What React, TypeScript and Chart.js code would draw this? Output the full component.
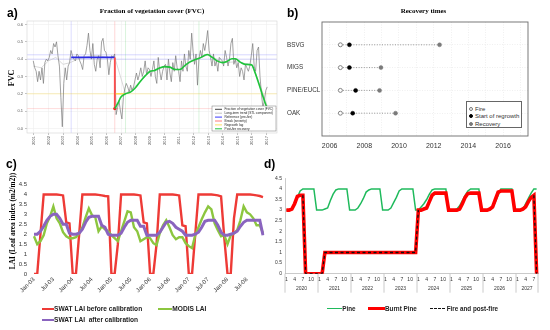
import React, { useEffect, useRef } from 'react';
import { Chart, registerables } from 'chart.js';

Chart.register(...registerables);

const SANS = '"Liberation Sans", Arial, Helvetica, sans-serif';
const SERIF = '"Liberation Serif", "Times New Roman", serif';

// ---------------- Panel a : FVC time series ----------------
const fvcStart = 2000.95;
const fvcStep = 0.1;
const fvcValues = [
  0.39,
  0.35, 0.33, 0.27, 0.33, 0.28, 0.35, 0.26, 0.38, 0.40, 0.39,
  0.41, 0.45, 0.43, 0.49, 0.47, 0.50, 0.42, 0.36, 0.18, 0.01,
  0.26, 0.35, 0.28, 0.36, 0.38, 0.45, 0.42, 0.40, 0.39, 0.43,
  0.42, 0.39, 0.37, 0.34, 0.42, 0.43, 0.48, 0.55, 0.45, 0.40,
  0.49, 0.37, 0.33, 0.40, 0.42, 0.35, 0.50, 0.52, 0.45, 0.44,
  0.40, 0.31, 0.38, 0.42, 0.41, 0.43, 0.08, 0.12, 0.16, 0.10,
  0.055, 0.18, 0.23, 0.26, 0.24, 0.21, 0.25, 0.22, 0.24, 0.28,
  0.32, 0.28, 0.31, 0.35, 0.30, 0.33, 0.39, 0.31, 0.35, 0.34,
  0.30, 0.34, 0.39, 0.30, 0.26, 0.41, 0.33, 0.28, 0.33, 0.36,
  0.37, 0.28, 0.40, 0.32, 0.27, 0.38, 0.33, 0.42, 0.35, 0.33,
  0.27, 0.39, 0.33, 0.43, 0.36, 0.33, 0.45, 0.40, 0.55, 0.44,
  0.37, 0.43, 0.25, 0.40, 0.45, 0.41, 0.49, 0.45, 0.50, 0.565,
  0.45, 0.41, 0.36, 0.43, 0.36, 0.39, 0.33, 0.41, 0.40, 0.39,
  0.36, 0.45, 0.41, 0.36, 0.40, 0.49, 0.52, 0.37, 0.40, 0.35,
  0.38, 0.30, 0.35, 0.33, 0.28, 0.37, 0.35, 0.33, 0.36, 0.42,
  0.49, 0.36, 0.33, 0.45, 0.47, 0.30, 0.20, 0.12, 0.16, 0.22,
  0.24,
];
const trendYears = [2000.95, 2001.5, 2002.0, 2002.5, 2003.0, 2003.5, 2004.0, 2004.5, 2005.0, 2005.5, 2006.0, 2006.56, 2007.3, 2008.0, 2009.0, 2010.0, 2011.0, 2012.0, 2013.0, 2014.0, 2015.0, 2016.0, 2016.6, 2017.05];
const trendValues = [0.36, 0.35, 0.39, 0.41, 0.37, 0.38, 0.40, 0.41, 0.42, 0.42, 0.41, 0.41, 0.20, 0.245, 0.33, 0.355, 0.34, 0.395, 0.425, 0.38, 0.385, 0.365, 0.24, 0.13];
const recoveryYears = [2006.56, 2006.8, 2006.97, 2007.3, 2007.64, 2007.98, 2008.3, 2008.66, 2009.0, 2009.3, 2009.67, 2010.0, 2010.36, 2010.7, 2011.04, 2011.38, 2011.7, 2012.05, 2012.4, 2012.7, 2012.93, 2013.27, 2013.6, 2013.94, 2014.28, 2014.62, 2014.85, 2015.19, 2015.53, 2015.98, 2016.2, 2016.56, 2016.97, 2017.15];
const recoveryValues = [0.115, 0.15, 0.18, 0.2, 0.21, 0.235, 0.27, 0.305, 0.33, 0.335, 0.35, 0.357, 0.354, 0.34, 0.34, 0.363, 0.383, 0.396, 0.406, 0.42, 0.427, 0.41, 0.39, 0.38, 0.387, 0.402, 0.402, 0.383, 0.37, 0.367, 0.325, 0.235, 0.133, 0.1];
const refStartYear = 2003.56;
const fireYear = 2006.56;
const regrowthYear = 2007.3;
const recoveredYear = 2012.35;
const refLevel = 0.41;
const refBandLevels = [0.425, 0.4];
const severityLevel = 0.115;
const regrowthLevel = 0.2;
const fvcTickYears = [2001, 2002, 2003, 2004, 2005, 2006, 2007, 2008, 2009, 2010, 2011, 2012, 2013, 2014, 2015, 2016, 2017];
const fvcTickValues = [0, 0.1, 0.2, 0.3, 0.4, 0.5, 0.6];
const fvcLegendLabels = ['Fraction of vegetation cover (FVC)', 'Long-term trend (STL component)', 'Reference (pre-fire)', 'Break (severity)', 'Regrowth lag', 'Post-fire recovery'];

// ---------------- Panel b : recovery times ----------------
const landCovers = ['BSVG', 'MIGS', 'PINE/EUCL', 'OAK'];
const fireTimes = [2006.62, 2006.62, 2006.62, 2006.62];
const regrowthTimes = [2007.14, 2007.14, 2007.5, 2007.33];
const recoveryTimes = [2012.34, 2008.96, 2008.88, 2009.8];
const recoveryTickYears = [2006, 2007, 2008, 2009, 2010, 2011, 2012, 2013, 2014, 2015, 2016, 2017];

// ---------------- Panel c : LAI calibration ----------------
const laiYearCodes = ['03', '04', '05', '06', '07', '08'];
const monthNames = ['Jan', 'Feb', 'Mar', 'Apr', 'May', 'Jun', 'Jul', 'Aug', 'Sep', 'Oct', 'Nov', 'Dec'];
const swatBefore = [
  0, 0, 2.0, 4, 4, 4, 4, 4, 3.98, 3.95, 2.6, 2.55,
  0, 0, 2.0, 4, 4, 4, 4, 4, 3.98, 3.95, 3.92, 3.9,
  0, 0, 1.5, 4, 4, 4, 4, 4, 3.98, 3.95, 2.6, 2.55,
  0, 0, 1.5, 4, 4, 4, 4, 4, 3.98, 3.95, 2.45, 2.4,
  0, 0, 2.0, 4, 4, 4, 4, 4, 3.98, 3.95, 3.9, 1.8,
  0, 0, 2.8, 4, 4, 4, 4, 4, 3.98, 3.95, 3.92, 3.87,
];
const modisLai = [
  1.9, 1.5, 1.65, 1.95, 2.55, 2.9, 3.4, 2.8, 2.55, 2.1, 1.9, 1.8,
  1.8, 1.85, 2.05, 2.35, 2.85, 3.3, 2.95, 2.85, 2.15, 2.4, 2.25, 2.15,
  1.95, 1.8, 1.65, 2.15, 2.65, 3.15, 3.1, 2.35, 2.15, 1.65, 1.75, 1.85,
  1.8, 1.55, 1.45, 2.05, 2.45, 2.7, 2.35, 1.95, 1.75, 1.85, 1.85, 1.55,
  1.4, 1.3, 1.95, 2.35, 2.75, 3.1, 3.4, 3.25, 2.55, 2.2, 1.9, 1.95,
  1.5, 1.95, 2.05, 2.2, 2.7, 3.4, 3.1, 3.0, 2.8, 2.45, 2.45, 2.05,
];
const swatAfter = [
  2.0, 2.0, 2.15, 2.4, 2.7, 2.9, 3.0, 3.0, 2.8, 2.5, 2.5, 2.05,
  2.0, 2.0, 2.05, 2.25, 2.6, 2.85, 2.9, 2.9, 2.9, 2.45, 2.35, 2.0,
  1.95, 1.95, 1.95, 2.05, 2.35, 2.6, 2.7, 2.7, 2.7, 2.4, 2.4, 1.95,
  1.95, 1.95, 1.95, 2.1, 2.35, 2.6, 2.65, 2.55, 2.35, 2.25, 2.15, 1.95,
  1.95, 1.95, 2.0, 2.1, 2.35, 2.65, 2.7, 2.7, 2.7, 2.45, 2.1, 1.95,
  1.95, 2.0, 2.05, 2.15, 2.4, 2.6, 2.7, 2.7, 2.7, 2.7, 2.7, 1.95,
];

// ---------------- Panel d : pine LAI scenario ----------------
const pineYears = [2020, 2021, 2022, 2023, 2024, 2025, 2026, 2027];
const pineMonthCounts = [12, 12, 12, 12, 12, 12, 12, 8];
const shownMonths = ['1', '4', '7', '10'];
const pineLai = [
  3.0, 3.0, 3.05, 3.3, 3.6, 3.9, 4.0, 4.0, 4.0, 4.0, 4.0, 3.0,
  3.0, 3.0, 3.05, 3.1, 3.45, 3.75, 3.95, 4.0, 4.0, 4.0, 4.0, 3.0,
  3.0, 3.0, 3.1, 3.3, 3.55, 3.85, 3.95, 4.0, 4.0, 4.0, 4.0, 3.0,
  3.0, 3.0, 3.1, 3.35, 3.6, 3.9, 4.0, 4.0, 4.0, 4.0, 4.0, 3.0,
  3.0, 3.15, 3.3, 3.5, 3.75, 3.95, 4.0, 4.0, 4.0, 4.0, 4.0, 3.0,
  3.0, 3.0, 3.05, 3.2, 3.45, 3.7, 3.9, 4.0, 4.0, 4.0, 4.0, 3.0,
  3.0, 3.0, 3.0, 3.1, 3.4, 3.7, 4.0, 4.0, 4.0, 4.0, 4.0, 3.0,
  3.0, 3.0, 3.05, 3.3, 3.55, 3.8, 4.0, 4.0,
];
const burntPineLai = [
  3.0, 3.0, 3.05, 3.3, 3.65, 3.7, 3.7, 0, 0, 0, 0, 0,
  0, 0, 1.0, 1.0, 1.0, 1.0, 1.0, 1.0, 1.0, 1.0, 1.0, 1.0,
  1.0, 1.0, 1.0, 1.0, 1.0, 1.0, 1.0, 1.0, 1.0, 1.0, 1.0, 1.0,
  1.0, 1.0, 1.0, 1.0, 1.0, 1.0, 1.0, 1.0, 1.0, 1.0, 1.0, 1.0,
  3.0, 3.0, 3.05, 3.1, 3.4, 3.7, 3.8, 3.8, 3.8, 3.8, 3.8, 3.0,
  3.0, 3.0, 3.0, 3.05, 3.3, 3.6, 3.78, 3.8, 3.8, 3.8, 3.8, 3.0,
  3.0, 3.0, 3.05, 3.15, 3.5, 3.85, 3.9, 3.9, 3.9, 3.9, 3.9, 3.0,
  3.0, 3.0, 3.05, 3.15, 3.4, 3.6, 3.7, 0,
];
const firePostFire = [
  null, null, null, null, null, null, 3.7, 0, 0, 0, 0, 0,
  0, 0, 1.0, 1.0, 1.0, 1.0, 1.0, 1.0, 1.0, 1.0, 1.0, 1.0,
  1.0, 1.0, 1.0, 1.0, 1.0, 1.0, 1.0, 1.0, 1.0, 1.0, 1.0, 1.0,
  1.0, 1.0, 1.0, 1.0, 1.0, 1.0, 1.0, 1.0, 1.0, 1.0, 1.0, 1.0,
  3.0, null, null, null, null, null, null, null, null, null, null, null,
  null, null, null, null, null, null, null, null, null, null, null, null,
  null, null, null, null, null, null, null, null, null, null, null, null,
  null, null, null, null, null, null, 3.7, 0,
];

// ---------------- helpers ----------------
const fixW = (w: number) => (s: any) => { s.width = w; };
const fixH = (h: number) => (s: any) => { s.height = h; };
const plainNumber = (v: any) => String(Math.round(Number(v) * 10) / 10);

const framePlugin = (color: string, width: number) => ({
  id: 'frame',
  afterDatasetsDraw(chart: any) {
    const { ctx, chartArea: a } = chart;
    ctx.save();
    ctx.strokeStyle = color;
    ctx.lineWidth = width;
    ctx.strokeRect(a.left, a.top, a.right - a.left, a.bottom - a.top);
    ctx.restore();
  },
});

const baseOptions = {
  responsive: false,
  animation: false,
  events: [],
};
const noPlugins = { legend: { display: false }, tooltip: { enabled: false } };

// ---------- config a ----------
const A_XMIN = 2000.52, A_XMAX = 2017.72, A_YMIN = -0.026, A_YMAX = 0.62;
const fvcLegendColors = ['#444444', '#c4c4c4', '#3b3bff', '#ff7a7a', '#ffe066', '#22c43f'];
const fvcLegendPlugin = {
  id: 'fvcLegend',
  afterDraw(chart: any) {
    const { ctx, chartArea } = chart;
    const w = 64, h = 25;
    const x0 = chartArea.right - w - 1, y0 = chartArea.bottom - h - 2;
    ctx.save();
    ctx.fillStyle = '#fff';
    ctx.fillRect(x0, y0, w, h);
    ctx.strokeStyle = '#777';
    ctx.lineWidth = 0.5;
    ctx.strokeRect(x0, y0, w, h);
    ctx.font = `3.2px ${SANS}`;
    ctx.textBaseline = 'middle';
    fvcLegendLabels.forEach((t, i) => {
      const y = y0 + 3.3 + i * 3.9;
      ctx.strokeStyle = fvcLegendColors[i];
      ctx.lineWidth = 1;
      ctx.beginPath();
      ctx.moveTo(x0 + 3, y);
      ctx.lineTo(x0 + 10, y);
      ctx.stroke();
      ctx.fillStyle = '#222';
      ctx.fillText(t, x0 + 12.5, y);
    });
    ctx.restore();
  },
};

function makeFvcConfig(): any {
  const hLine = (level: number, color: string) => ({
    data: [{ x: A_XMIN, y: level }, { x: A_XMAX, y: level }],
    borderColor: color, borderWidth: 0.7, pointRadius: 0, order: 10,
  });
  const vLine = (year: number, color: string) => ({
    data: [{ x: year, y: A_YMIN }, { x: year, y: A_YMAX }],
    borderColor: color, borderWidth: 0.7, pointRadius: 0, order: 10,
  });
  const tickFont = { size: 4, family: SANS };
  return {
    type: 'line',
    data: {
      datasets: [
        ...refBandLevels.map((l) => hLine(l, 'rgba(90,90,255,0.35)')),
        hLine(severityLevel, 'rgba(255,90,90,0.3)'),
        hLine(regrowthLevel, 'rgba(255,210,0,0.4)'),
        vLine(refStartYear, 'rgba(90,90,255,0.3)'),
        vLine(fireYear, 'rgba(255,90,90,0.35)'),
        vLine(regrowthYear, 'rgba(40,190,60,0.25)'),
        vLine(recoveredYear, 'rgba(40,190,60,0.25)'),
        {
          data: trendYears.map((x, i) => ({ x, y: trendValues[i] })),
          borderColor: '#cfcfcf', borderWidth: 0.8, pointRadius: 0, order: 6,
        },
        {
          data: fvcValues.map((v, i) => ({ x: fvcStart + i * fvcStep, y: v })),
          borderColor: '#7a7a7a', borderWidth: 0.7, pointRadius: 0, order: 5,
        },
        {
          data: [{ x: refStartYear, y: refLevel }, { x: fireYear, y: refLevel }],
          borderColor: '#2b2be8', borderWidth: 1.8, pointRadius: 0, order: 3,
        },
        {
          data: [{ x: fireYear, y: regrowthLevel }, { x: regrowthYear, y: regrowthLevel }],
          borderColor: '#ffd84a', borderWidth: 1.4, pointRadius: 0, order: 4,
        },
        {
          data: [{ x: fireYear, y: refLevel }, { x: fireYear, y: severityLevel }],
          borderColor: '#ff4d4d', borderWidth: 1.8,
          pointRadius: [0, 1.6], pointBackgroundColor: '#ff1a1a', pointBorderWidth: 0, order: 2,
        },
        {
          data: recoveryYears.map((x, i) => ({ x, y: recoveryValues[i] })),
          borderColor: '#1fc43a', borderWidth: 1.6, pointRadius: 0, cubicInterpolationMode: 'monotone', order: 1,
        },
      ],
    },
    options: {
      ...baseOptions,
      layout: { padding: { left: 0, top: 21, right: 1, bottom: 0 } },
      plugins: noPlugins,
      scales: {
        x: {
          type: 'linear', min: A_XMIN, max: A_XMAX,
          afterBuildTicks: (s: any) => { s.ticks = fvcTickYears.map((v) => ({ value: v })); },
          afterFit: fixH(17),
          ticks: { font: tickFont, color: '#555', minRotation: 90, maxRotation: 90, padding: 1, autoSkip: false, callback: (v: any) => String(v) },
          grid: { color: '#eeeeee', lineWidth: 0.6, tickLength: 2, tickColor: '#999' },
          border: { display: false },
        },
        y: {
          type: 'linear', min: A_YMIN, max: A_YMAX,
          afterBuildTicks: (s: any) => { s.ticks = fvcTickValues.map((v) => ({ value: v })); },
          afterFit: fixW(27),
          ticks: { font: tickFont, color: '#555', padding: 2, autoSkip: false, callback: (v: any) => Number(v).toFixed(1) },
          grid: { color: '#eeeeee', lineWidth: 0.6, tickLength: 2, tickColor: '#999' },
          border: { display: false },
        },
      },
    },
    plugins: [framePlugin('#d4d4d4', 0.6), fvcLegendPlugin],
  };
}

// ---------- config b ----------
function makeRecoveryConfig(): any {
  const pos = (i: number) => landCovers.length - i;
  return {
    type: 'scatter',
    data: {
      datasets: [
        ...landCovers.map((_, i) => ({
          data: [{ x: fireTimes[i], y: pos(i) }, { x: recoveryTimes[i], y: pos(i) }],
          showLine: true, borderColor: '#8a8a8a', borderWidth: 0.9, borderDash: [1, 1.6],
          pointRadius: 0, order: 5,
        })),
        {
          label: 'Fire',
          data: landCovers.map((_, i) => ({ x: fireTimes[i], y: pos(i) })),
          pointRadius: 2, pointBackgroundColor: '#ffffff', pointBorderColor: '#777', pointBorderWidth: 0.9, order: 1,
        },
        {
          label: 'Start of regrowth',
          data: landCovers.map((_, i) => ({ x: regrowthTimes[i], y: pos(i) })),
          pointRadius: 2, pointBackgroundColor: '#000', pointBorderColor: '#000', pointBorderWidth: 0.5, order: 1,
        },
        {
          label: 'Recovery',
          data: landCovers.map((_, i) => ({ x: recoveryTimes[i], y: pos(i) })),
          pointRadius: 2, pointBackgroundColor: '#7a7a7a', pointBorderColor: '#7a7a7a', pointBorderWidth: 0.5, order: 1,
        },
      ],
    },
    options: {
      ...baseOptions,
      layout: { padding: { left: 7, top: 22, right: 22, bottom: 0 } },
      plugins: noPlugins,
      scales: {
        x: {
          type: 'linear', min: 2005.56, max: 2017.44,
          afterBuildTicks: (s: any) => { s.ticks = recoveryTickYears.map((v) => ({ value: v })); },
          afterFit: fixH(24),
          ticks: { font: { size: 7, family: SANS }, color: '#333', padding: 6, autoSkip: false, maxRotation: 0, callback: (v: any) => (Number(v) % 2 === 0 ? String(v) : '') },
          grid: { color: '#e6e6e6', lineWidth: 0.6, drawTicks: false },
          border: { display: false, dash: [1, 1.5] },
        },
        y: {
          type: 'linear', min: 0, max: 5,
          afterBuildTicks: (s: any) => { s.ticks = landCovers.map((_, i) => ({ value: pos(i) })); },
          afterFit: fixW(35),
          ticks: { font: { size: 6.3, family: SANS }, color: '#333', crossAlign: 'far', autoSkip: false, callback: (v: any) => landCovers[landCovers.length - Number(v)] },
          grid: { color: '#e6e6e6', lineWidth: 0.6, drawTicks: false },
          border: { display: false, dash: [1, 1.5] },
        },
      },
    },
    plugins: [framePlugin('#6a6a6a', 0.9)],
  };
}

// ---------- config c ----------
const laiLabels = laiYearCodes.flatMap((y) => monthNames.map((m) => `${m}-${y}`));
function makeLaiConfig(): any {
  return {
    type: 'line',
    data: {
      labels: laiLabels,
      datasets: [
        { label: 'SWAT LAI before calibration', data: swatBefore, borderColor: '#ee3a36', borderWidth: 2.4, pointRadius: 0, order: 3 },
        { label: 'MODIS LAI', data: modisLai, borderColor: '#8cc63f', borderWidth: 2.4, pointRadius: 0, order: 2 },
        { label: 'SWAT LAI after calibration', data: swatAfter, borderColor: '#8a64bf', borderWidth: 3, pointRadius: 0, order: 1 },
      ],
    },
    options: {
      ...baseOptions,
      layout: { padding: { left: 0, top: 24.5, right: 17, bottom: 0 } },
      plugins: noPlugins,
      scales: {
        x: {
          type: 'category', offset: false,
          afterFit: fixH(31),
          ticks: {
            font: { size: 6, family: SANS }, color: '#333', autoSkip: false, minRotation: 45, maxRotation: 45, padding: 2,
            callback: (_v: any, i: number) => (i % 6 === 0 ? laiLabels[i] : ''),
          },
          grid: { display: false, drawTicks: false },
          border: { display: false },
        },
        y: {
          type: 'linear', min: 0, max: 4.5,
          afterFit: fixW(34),
          ticks: { stepSize: 0.5, autoSkip: false, font: { size: 6, family: SANS }, color: '#333', padding: 7, callback: plainNumber },
          grid: { display: false, drawTicks: false },
          border: { display: false },
        },
      },
    },
  };
}

// ---------- config d ----------
const pineMonthLabels = pineMonthCounts.flatMap((n) => Array.from({ length: n }, (_, k) => String(k + 1)));
const yearAxisPlugin = {
  id: 'yearAxis',
  afterDraw(chart: any) {
    const xs = chart.scales.x;
    const { ctx, chartArea } = chart;
    const bottom = chartArea.bottom;
    const half = (xs.getPixelForValue(1) - xs.getPixelForValue(0)) / 2;
    ctx.save();
    ctx.strokeStyle = '#bdbdbd';
    ctx.lineWidth = 0.8;
    ctx.fillStyle = '#333';
    ctx.font = `5px ${SANS}`;
    ctx.textAlign = 'center';
    ctx.textBaseline = 'middle';
    let start = 0;
    pineYears.forEach((yr, k) => {
      const n = pineMonthCounts[k];
      const x0 = xs.getPixelForValue(start) - half;
      const x1 = xs.getPixelForValue(start + n - 1) + half;
      ctx.beginPath();
      ctx.moveTo(x0, bottom);
      ctx.lineTo(x0, bottom + 19);
      ctx.stroke();
      if (k === pineYears.length - 1) {
        ctx.beginPath();
        ctx.moveTo(x1, bottom);
        ctx.lineTo(x1, bottom + 19);
        ctx.stroke();
      }
      ctx.fillText(String(yr), (x0 + x1) / 2, bottom + 14.5);
      start += n;
    });
    ctx.restore();
  },
};
function makePineConfig(): any {
  return {
    type: 'line',
    data: {
      labels: pineMonthLabels,
      datasets: [
        { label: 'Fire and post-fire', data: firePostFire, borderColor: '#111', borderWidth: 1.3, borderDash: [3, 2.5], pointRadius: 0, spanGaps: false, order: 1 },
        { label: 'Burnt Pine', data: burntPineLai, borderColor: '#ff0000', borderWidth: 3.6, pointRadius: 0, order: 2 },
        { label: 'Pine', data: pineLai, borderColor: '#1fba5c', borderWidth: 1.5, pointRadius: 0, order: 3 },
      ],
    },
    options: {
      ...baseOptions,
      layout: { padding: { left: 0, top: 18.3, right: 12, bottom: 0 } },
      plugins: noPlugins,
      scales: {
        x: {
          type: 'category', offset: true,
          afterFit: fixH(31.3),
          ticks: {
            font: { size: 5, family: SANS }, color: '#333', autoSkip: false, minRotation: 0, maxRotation: 0, padding: 3,
            callback: (_v: any, i: number) => (shownMonths.includes(pineMonthLabels[i]) ? pineMonthLabels[i] : ''),
          },
          grid: { display: false, drawTicks: false },
          border: { display: true, color: '#bdbdbd', width: 0.8 },
        },
        y: {
          type: 'linear', min: 0, max: 4.5,
          afterFit: fixW(15),
          ticks: { stepSize: 0.5, autoSkip: false, font: { size: 5, family: SANS }, color: '#333', padding: 3, callback: plainNumber },
          grid: { display: false, drawTicks: false },
          border: { display: true, color: '#bdbdbd', width: 0.8 },
        },
      },
    },
    plugins: [yearAxisPlugin],
  };
}

// ---------------- components ----------------
function ChartBox({ make, left, top, width, height }: any) {
  const ref = useRef<HTMLCanvasElement>(null);
  useEffect(() => {
    const chart = new Chart(ref.current as HTMLCanvasElement, make());
    return () => chart.destroy();
  }, [make]);
  return (
    <canvas
      ref={ref}
      width={width}
      height={height}
      style={{ position: 'absolute', left, top, width, height }}
    />
  );
}

function Txt({ x, y, children, size, bold = false, serif = false, align = 'left', rotate = false, color = '#000' }: any) {
  let transform = 'translateY(-50%)';
  if (align === 'center') transform = 'translate(-50%,-50%)';
  if (rotate) transform = 'translate(-50%,-50%) rotate(-90deg)';
  return (
    <div
      style={{
        position: 'absolute', left: x, top: y, transform, whiteSpace: 'pre', lineHeight: 1,
        fontSize: size, fontWeight: bold ? 'bold' : 'normal', fontFamily: serif ? SERIF : SANS, color,
      }}
    >
      {children}
    </div>
  );
}

function Swatch({ x, y, w, color, thick, dashed = false }: any) {
  return (
    <div
      style={{
        position: 'absolute', left: x, top: y - thick / 2, width: w, height: 0,
        borderTop: `${thick}px ${dashed ? 'dashed' : 'solid'} ${color}`,
      }}
    />
  );
}

function Dot({ x, y, fill, stroke }: any) {
  return (
    <div
      style={{
        position: 'absolute', left: x - 2, top: y - 2, width: 4, height: 4, borderRadius: '50%',
        boxSizing: 'border-box', background: fill, border: `0.9px solid ${stroke}`,
      }}
    />
  );
}

export default function App() {
  return (
    <div style={{ position: 'absolute', left: 0, top: 0, width: 550, height: 330, background: '#fff', overflow: 'hidden' }}>
      <ChartBox make={makeFvcConfig} left={0} top={0} width={281} height={150} />
      <ChartBox make={makeRecoveryConfig} left={280} top={0} width={270} height={160} />
      <ChartBox make={makeLaiConfig} left={0} top={160} width={280} height={145} />
      <ChartBox make={makePineConfig} left={270} top={160} width={280} height={145} />

      {/* panel a texts */}
      <Txt x={7} y={13} size={12} bold>a)</Txt>
      <Txt x={152} y={10.7} size={7} bold serif align="center">Fraction of vegetation cover (FVC)</Txt>
      <Txt x={12} y={78} size={8} bold serif rotate>FVC</Txt>

      {/* panel b texts */}
      <Txt x={287} y={12.5} size={12} bold>b)</Txt>
      <Txt x={423.5} y={10.7} size={7} bold serif align="center">Recovery times</Txt>
      <div style={{ position: 'absolute', left: 465.5, top: 101, width: 56, height: 26.5, border: '0.9px solid #666', boxSizing: 'border-box', background: '#fff' }} />
      <Dot x={471} y={108.5} fill="#fff" stroke="#777" />
      <Txt x={475} y={108.5} size={6} color="#333">Fire</Txt>
      <Dot x={471} y={116} fill="#000" stroke="#000" />
      <Txt x={475} y={116} size={6} color="#333">Start of regrowth</Txt>
      <Dot x={471} y={123.5} fill="#7a7a7a" stroke="#7a7a7a" />
      <Txt x={475} y={123.5} size={6} color="#333">Recovery</Txt>

      {/* panel c texts */}
      <Txt x={6} y={164} size={12} bold>c)</Txt>
      <Txt x={12.5} y={220.5} size={7.3} bold serif rotate>LAI (Leaf area index (m2/m2))</Txt>
      <Swatch x={42} y={309} w={12} color="#ee3a36" thick={2.4} />
      <Txt x={54} y={309} size={6.6} bold color="#222">SWAT LAI before calibration</Txt>
      <Swatch x={158} y={309} w={14} color="#8cc63f" thick={2.4} />
      <Txt x={172.3} y={309} size={6.6} bold color="#222">MODIS LAI</Txt>
      <Swatch x={42} y={320} w={12} color="#8a64bf" thick={2.6} />
      <Txt x={54} y={320} size={6.6} bold color="#222">SWAT LAI  after calibration</Txt>

      {/* panel d texts */}
      <Txt x={264} y={164} size={12} bold>d)</Txt>
      <Swatch x={327} y={309} w={15} color="#1fba5c" thick={1.5} />
      <Txt x={342.3} y={309} size={6.3} bold color="#222">Pine</Txt>
      <Swatch x={368.3} y={309} w={16.5} color="#ff0000" thick={3.5} />
      <Txt x={385} y={309} size={6.3} bold color="#222">Burnt Pine</Txt>
      <Swatch x={430} y={309} w={15} color="#111" thick={1.2} dashed />
      <Txt x={446.7} y={309} size={6.3} bold color="#222">Fire and post-fire</Txt>
    </div>
  );
}
